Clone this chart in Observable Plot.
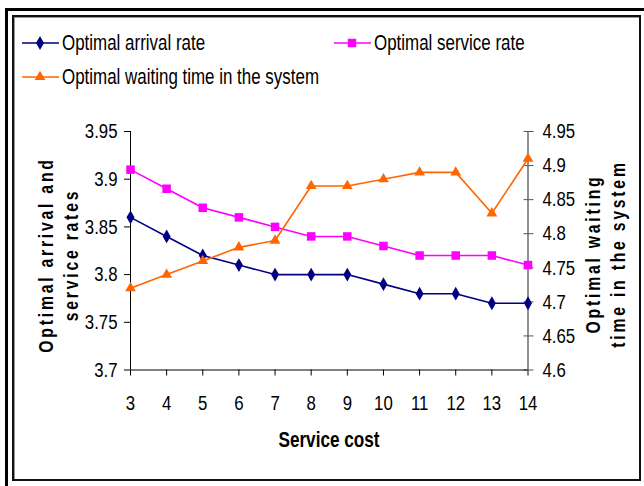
<!DOCTYPE html>
<html>
<head>
<meta charset="utf-8">
<script src="https://cdn.jsdelivr.net/npm/d3@7"></script>
<script src="https://cdn.jsdelivr.net/npm/@observablehq/plot@0.6"></script>
<style>
  html, body { margin: 0; padding: 0; background: #fff; }
  #wrap { position: relative; width: 644px; height: 486px; overflow: hidden; font-family: "Liberation Sans", Arial, sans-serif; }
  #outer { position: absolute; left: 5px; top: 8px; width: 700px; height: 600px; border-left: 3px solid #000; border-top: 3px solid #000; }
  #inner { position: absolute; left: 12px; top: 15px; width: 629px; height: 466px; box-sizing: border-box; border: 2px solid #111; box-shadow: inset 1px 1px 0 #999; }
  #chart { position: absolute; left: 0; top: 0; }
  .legsym { position: absolute; }
  .legtxt { position: absolute; font-size: 22px; line-height: 22px; color: #000; white-space: nowrap; transform-origin: 0 50%; transform: translateY(-50%) scaleX(0.77); }
  .ytitle { position: absolute; font-weight: bold; font-size: 21px; letter-spacing: 3.7px; text-align: center; line-height: 25px; white-space: nowrap; transform: translate(-50%, -50%) rotate(-90deg) scaleX(0.75); }
  #xtitle { position: absolute; font-weight: bold; font-size: 22px; line-height: 22px; transform: translate(-50%, -50%) scaleX(0.78); white-space: nowrap; }
</style>
</head>
<body>
<div id="wrap">
  <div id="outer"></div>
  <div id="inner"></div>
  <div id="chart"></div>
</div>
<script>
// ---- data ----
const costs = [3, 4, 5, 6, 7, 8, 9, 10, 11, 12, 13, 14];
const arrivalRate = [3.86, 3.84, 3.82, 3.81, 3.80, 3.80, 3.80, 3.79, 3.78, 3.78, 3.77, 3.77];
const serviceRate = [3.91, 3.89, 3.87, 3.86, 3.85, 3.84, 3.84, 3.83, 3.82, 3.82, 3.82, 3.81];
const waitingTime = [4.72, 4.74, 4.76, 4.78, 4.79, 4.87, 4.87, 4.88, 4.89, 4.89, 4.83, 4.91];
const leftTicks = [3.7, 3.75, 3.8, 3.85, 3.9, 3.95];
const rightTicks = [4.6, 4.65, 4.7, 4.75, 4.8, 4.85, 4.9, 4.95];
const seriesNames = ["Optimal arrival rate", "Optimal service rate", "Optimal waiting time in the system"];
const seriesColors = ["#000080", "#FF00FF", "#FF6600"];
const leftTitle = ["Optimal arrival and", "service rates"];
const rightTitle = ["Optimal waiting", "time in the system"];
const xTitle = "Service cost";

// ---- dual-axis mapping ----
const L0 = 3.7, L1 = 3.95, R0 = 4.6, R1 = 4.95;
const toLeft = v => L0 + (v - R0) * (L1 - L0) / (R1 - R0);
const toRight = v => R0 + (v - L0) * (R1 - R0) / (L1 - L0);
const fmt = v => String(+(+v).toFixed(2));

const rows = costs.map((c, i) => ({cost: c, arrival: arrivalRate[i], service: serviceRate[i], waiting: toLeft(waitingTime[i])}));

const chart = Plot.plot({
  width: 644,
  height: 486,
  marginLeft: 130,
  marginRight: 116.5,
  marginTop: 131,
  marginBottom: 116.5,
  style: {fontFamily: '"Liberation Sans", Arial, sans-serif', fontSize: "21px", background: "transparent", color: "#000"},
  x: {domain: [3, 14]},
  y: {domain: [L0, L1]},
  marks: [
    Plot.axisX({ticks: costs, tickSize: 6, tickPadding: 19, tickFormat: d => String(d), label: null}),
    Plot.axisY({ticks: leftTicks, tickSize: 6, tickPadding: 7, tickFormat: fmt, label: null}),
    Plot.axisY({anchor: "right", ticks: rightTicks.map(toLeft), tickSize: 5, tickPadding: 9.5, tickFormat: d => fmt(toRight(d)), label: null, stroke: "#555"}),
    Plot.axisY({anchor: "right", ticks: rightTicks.map(toLeft), tickSize: 5, dx: -5, tickFormat: () => "", label: null, stroke: "#555"}),
    Plot.ruleX([14], {stroke: "#555", strokeWidth: 1.3}),
    Plot.ruleY([L0], {stroke: "#000"}),
    Plot.ruleX([3], {stroke: "#000"}),
    Plot.line(rows, {x: "cost", y: "service", stroke: seriesColors[1], strokeWidth: 1.6}),
    Plot.line(rows, {x: "cost", y: "arrival", stroke: seriesColors[0], strokeWidth: 1.6}),
    Plot.line(rows, {x: "cost", y: "waiting", stroke: seriesColors[2], strokeWidth: 1.6}),
    Plot.dot(rows, {x: "cost", y: "service", symbol: "square", r: 4.8, fill: seriesColors[1]}),
    Plot.dot(rows, {x: "cost", y: "arrival", symbol: "diamond", r: 4.2, fill: seriesColors[0]}),
    Plot.dot(rows, {x: "cost", y: "waiting", symbol: "triangle", r: 4, fill: seriesColors[2]})
  ]
});
// condense tick labels horizontally (tall, narrow glyphs as in the reference)
chart.querySelectorAll('g[aria-label$="tick label"] text').forEach(t => {
  const tr = t.getAttribute("transform");
  if (tr) {
    t.setAttribute("transform", tr + " scale(0.8,1)");
  } else {
    const x = +(t.getAttribute("x") || 0);
    t.removeAttribute("x");
    t.setAttribute("transform", `translate(${x},0) scale(0.8,1)`);
  }
});
document.getElementById("chart").appendChild(chart);

// ---- legend ----
const wrap = document.getElementById("wrap");
const symbols = [d3.symbolDiamond, d3.symbolSquare, d3.symbolTriangle];
const symSizes = [55, 72, 50];
const legPos = [[22, 42.5], [334, 42.5], [22, 77]];
seriesNames.forEach((name, i) => {
  const [lx, ly] = legPos[i];
  const s = document.createElement("div");
  s.className = "legsym";
  s.style.left = lx + "px";
  s.style.top = (ly - 11) + "px";
  const p = d3.symbol(symbols[i], symSizes[i])();
  s.innerHTML = `<svg width="37" height="22"><line x1="0" x2="37" y1="11" y2="11" stroke="${seriesColors[i]}" stroke-width="1.6"/><path d="${p}" transform="translate(18,11)" fill="${seriesColors[i]}"/></svg>`;
  wrap.appendChild(s);
  const t = document.createElement("div");
  t.className = "legtxt";
  t.style.left = (lx + 40) + "px";
  t.style.top = ly + "px";
  t.textContent = name;
  wrap.appendChild(t);
});

// ---- axis titles ----
function addTitle(lines, cx, cy) {
  const d = document.createElement("div");
  d.className = "ytitle";
  d.style.left = cx + "px";
  d.style.top = cy + "px";
  d.innerHTML = lines.join("<br>");
  wrap.appendChild(d);
}
addTitle(leftTitle, 57.5, 255);
addTitle(rightTitle, 605, 254);
const xt = document.createElement("div");
xt.id = "xtitle";
xt.style.left = "329px";
xt.style.top = "440px";
xt.textContent = xTitle;
wrap.appendChild(xt);
</script>
</body>
</html>
